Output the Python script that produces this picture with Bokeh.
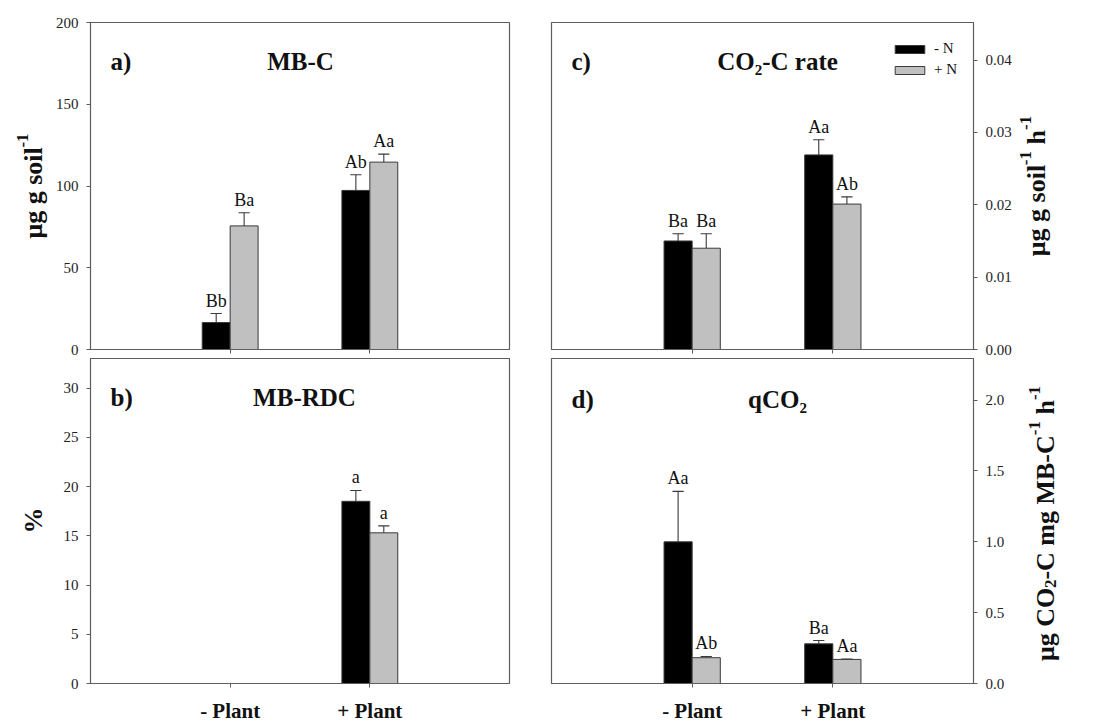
import math
import numpy as np
from bokeh.plotting import figure
from bokeh.layouts import row, column
from bokeh.models import (Range1d, FixedTicker, PrintfTickFormatter, Label,
                          Legend, LegendItem)
from bokeh.core.properties import value
from bokeh.embed import file_html
from bokeh.resources import INLINE

# ---------------- data ----------------
categories = ["- Plant", "+ Plant"]
treatments = ["- N", "+ N"]

# a) MB-C (ug g soil-1)
mbc_minus_n = [16.5, 97.3]
mbc_minus_n_se = [5.5, 9.6]
mbc_plus_n = [75.6, 114.6]
mbc_plus_n_se = [8.0, 4.9]
mbc_letters_minus_n = ["Bb", "Ab"]
mbc_letters_plus_n = ["Ba", "Aa"]
mbc_ticks = [0, 50, 100, 150, 200]

# b) MB-RDC (%)
rdc_minus_n = [float("nan"), 18.5]
rdc_minus_n_se = [float("nan"), 1.1]
rdc_plus_n = [float("nan"), 15.3]
rdc_plus_n_se = [float("nan"), 0.7]
rdc_letters_minus_n = ["", "a"]
rdc_letters_plus_n = ["", "a"]
rdc_ticks = [0, 5, 10, 15, 20, 25, 30]

# c) CO2-C rate (ug g soil-1 h-1)
co2_minus_n = [0.0150, 0.0269]
co2_minus_n_se = [0.0010, 0.0021]
co2_plus_n = [0.0140, 0.0201]
co2_plus_n_se = [0.0020, 0.0010]
co2_letters_minus_n = ["Ba", "Aa"]
co2_letters_plus_n = ["Ba", "Ab"]
co2_ticks = [0.0, 0.01, 0.02, 0.03, 0.04]

# d) qCO2 (ug CO2-C mg MB-C-1 h-1)
qco2_minus_n = [1.0, 0.28]
qco2_minus_n_se = [0.356, 0.023]
qco2_plus_n = [0.182, 0.17]
qco2_plus_n_se = [0.009, 0.003]
qco2_letters_minus_n = ["Aa", "Ba"]
qco2_letters_plus_n = ["Ab", "Aa"]
qco2_ticks = [0.0, 0.5, 1.0, 1.5, 2.0]

# axis titles: (text, kind) pieces, kind = normal / sup / sub
ylabel_a = [("μg g soil", "n"), ("-1", "sup")]
ylabel_b = [("%", "n")]
ylabel_c = [("μg g soil", "n"), ("-1", "sup"), (" h", "n"), ("-1", "sup")]
ylabel_d = [("μg CO", "n"), ("2", "sub"), ("-C mg MB-C", "n"), ("-1", "sup"),
            (" h", "n"), ("-1", "sup")]

# ---------------- style ----------------
FONT = "Liberation Serif"
AX = "#5e5e5e"
EDGE = "#3a3a3a"
GRAY = "#c0c0c0"
BASE_PX = 26
SMALL_PX = 17
# Times/Liberation Serif Bold advance widths (em)
ADV = {"μ": 0.556, "g": 0.5, " ": 0.25, "s": 0.389, "o": 0.5, "i": 0.278,
       "l": 0.278, "h": 0.556, "C": 0.722, "O": 0.778, "-": 0.333, "m": 0.833,
       "M": 0.944, "B": 0.667, "1": 0.5, "2": 0.5, "%": 1.0}


def make_panel(minus, minus_se, plus, plus_se, let_m, let_p, ticks, ymax, fmt,
               side, show_x, width, height, borders, letter, title, title_x,
               drop):
    bl, br, bt, bb = borders
    p = figure(width=width, height=height, x_range=Range1d(0, 3),
               y_range=Range1d(0, ymax), output_backend="svg",
               toolbar_location=None, y_axis_location=side, title=None,
               min_border_left=bl, min_border_right=br, min_border_top=bt,
               min_border_bottom=bb)
    p.xgrid.visible = False
    p.ygrid.visible = False
    p.outline_line_color = AX
    p.outline_line_width = 1.2
    p.background_fill_color = "white"
    p.border_fill_color = "white"

    pos = np.arange(1, len(categories) + 1, dtype=float)
    xm = pos - 0.1
    xp = pos + 0.1
    r1 = p.vbar(x=xm, top=minus, width=0.2, fill_color="black",
                line_color=EDGE, line_width=1)
    r2 = p.vbar(x=xp, top=plus, width=0.2, fill_color=GRAY,
                line_color=EDGE, line_width=1)
    for xs, v, se, lab in ((xm, minus, minus_se, let_m), (xp, plus, plus_se, let_p)):
        v = np.array(v, dtype=float)
        top = v + np.array(se, dtype=float)
        p.segment(x0=xs, y0=v, x1=xs, y1=top, line_color=EDGE, line_width=1.1)
        p.segment(x0=xs - 0.04, y0=top, x1=xs + 0.04, y1=top,
                  line_color=EDGE, line_width=1.1)
        keep = [i for i, t in enumerate(lab) if t]
        p.text(x=xs[keep], y=top[keep], text=[lab[i] for i in keep],
               text_align="center", text_baseline="bottom", y_offset=-3,
               text_font=value(FONT), text_font_size="18px",
               text_color="#111111")

    # x axis
    xa = p.xaxis[0]
    xa.ticker = FixedTicker(ticks=list(pos))
    xa.minor_tick_line_color = None
    xa.major_tick_in = 0
    xa.major_tick_out = 4
    xa.axis_line_color = AX
    xa.major_tick_line_color = AX
    if show_x:
        xa.major_label_overrides = {int(i): c for i, c in zip(pos, categories)}
        xa.major_label_text_font = FONT
        xa.major_label_text_font_size = "21px"
        xa.major_label_text_font_style = "bold"
        xa.major_label_text_color = "#111111"
        xa.major_label_standoff = 11
    else:
        xa.major_label_text_alpha = 0
        xa.major_label_text_font_size = "1px"
        xa.major_label_standoff = 0

    # y axis
    ya = p.yaxis[0]
    ya.ticker = FixedTicker(ticks=ticks)
    ya.formatter = PrintfTickFormatter(format=fmt)
    ya.minor_tick_line_color = None
    ya.major_tick_in = 0
    ya.major_tick_out = 4
    ya.axis_line_color = AX
    ya.major_tick_line_color = AX
    ya.major_label_text_font = FONT
    ya.major_label_text_font_size = "15px"
    ya.major_label_text_color = "#222222"
    ya.major_label_standoff = 8

    fh = height - bt - bb
    p.add_layout(Label(x=20, y=fh - drop, x_units="screen", y_units="screen",
                       text=letter, text_font=FONT, text_font_size="25px",
                       text_font_style="bold", text_color="#111111",
                       text_baseline="alphabetic"))
    p.add_layout(Label(x=title_x, y=fh - drop, x_units="screen", y_units="screen",
                       text=title, text_font=FONT, text_font_size="25px",
                       text_font_style="bold", text_color="#111111",
                       text_align="center", text_baseline="alphabetic"))
    return p, r1, r2


def side_title(pieces, width, height, baseline_x, center_from_top):
    q = figure(width=width, height=height, x_range=Range1d(0, width),
               y_range=Range1d(0, height), output_backend="svg",
               toolbar_location=None, title=None, x_axis_location=None,
               y_axis_location=None, min_border=0)
    q.xgrid.visible = False
    q.ygrid.visible = False
    q.outline_line_color = None
    q.border_fill_color = "white"
    sizes = {"n": BASE_PX, "sup": SMALL_PX, "sub": SMALL_PX}
    shift = {"n": 0, "sup": -11, "sub": 5}
    total = sum(sum(ADV.get(ch, 0.5) for ch in t) * sizes[k] for t, k in pieces)
    y = (height - center_from_top) - total / 2
    for t, k in pieces:
        s = sizes[k]
        lead = len(t) - len(t.lstrip(" "))
        q.add_layout(Label(x=baseline_x + shift[k], y=y + lead * ADV[" "] * s,
                           text=t.strip(" "), angle=math.pi / 2,
                           text_font=FONT, text_font_size=f"{s}px",
                           text_font_style="bold", text_color="#111111",
                           text_align="left", text_baseline="alphabetic"))
        y += sum(ADV.get(ch, 0.5) for ch in t) * s
    return q


TOP_H = 358
BOT_H = 725 - TOP_H

pa, _, _ = make_panel(mbc_minus_n, mbc_minus_n_se, mbc_plus_n, mbc_plus_n_se,
                      mbc_letters_minus_n, mbc_letters_plus_n, mbc_ticks, 200,
                      "%d", "left", False, 480, TOP_H, (40, 21, 22, 9),
                      "a)", "MB-C", 210, 39)

pb, _, _ = make_panel(rdc_minus_n, rdc_minus_n_se, rdc_plus_n, rdc_plus_n_se,
                      rdc_letters_minus_n, rdc_letters_plus_n, rdc_ticks, 33,
                      "%d", "left", True, 480, BOT_H, (40, 21, 0, 39),
                      "b)", "MB-RDC", 214, 42)

pc, rc1, rc2 = make_panel(co2_minus_n, co2_minus_n_se, co2_plus_n, co2_plus_n_se,
                          co2_letters_minus_n, co2_letters_plus_n, co2_ticks,
                          0.0452, "%.2f", "right", False, 486, TOP_H,
                          (21, 43, 22, 9), "c)", "CO₂-C rate", 226, 39)

pd_, _, _ = make_panel(qco2_minus_n, qco2_minus_n_se, qco2_plus_n, qco2_plus_n_se,
                       qco2_letters_minus_n, qco2_letters_plus_n, qco2_ticks,
                       2.294, "%.1f", "right", True, 486, BOT_H,
                       (21, 43, 0, 41), "d)", "qCO₂", 226, 42)

legend = Legend(items=[LegendItem(label=treatments[0], renderers=[rc1]),
                       LegendItem(label=treatments[1], renderers=[rc2])],
                location=(340, 270), glyph_width=37, glyph_height=10,
                label_height=19, label_width=20, spacing=2, padding=0, margin=0,
                label_standoff=6, border_line_color=None,
                background_fill_alpha=0, label_text_font=FONT,
                label_text_font_size="15px", label_text_color="#111111")
pc.add_layout(legend)

# axis titles (read bottom to top)
ta = side_title(ylabel_a, 50, TOP_H, 33, 185.5)
tb = side_title(ylabel_b, 50, BOT_H, 33, 162)
tc = side_title(ylabel_c, 80, TOP_H, 20, 185.5)
td = side_title(ylabel_d, 80, BOT_H, 29, 165)

layout = row(column(ta, tb), column(pa, pb), column(pc, pd_), column(tc, td))

open("out.html", "w").write(file_html(layout, INLINE))
